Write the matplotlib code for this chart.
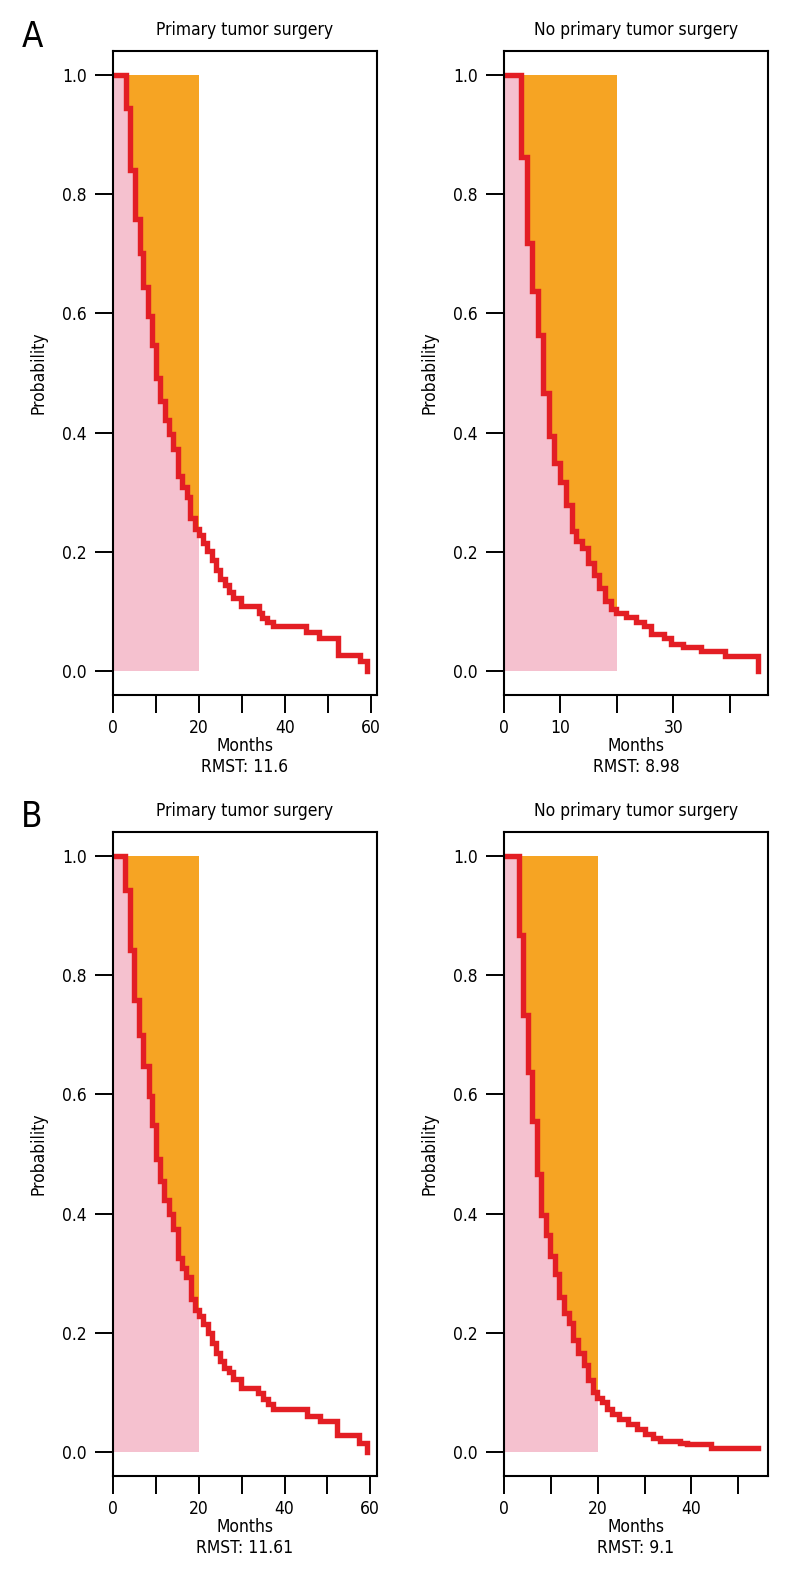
import matplotlib
matplotlib.use("Agg")
import matplotlib.pyplot as plt
from matplotlib.transforms import offset_copy
import numpy as np

plt.rcParams['font.family'] = ['Liberation Sans Narrow', 'DejaVu Sans']
plt.rcParams['font.stretch'] = 'condensed'

# step survival curves (time in months, survival after that time)
t_a_surg = [0, 3.0, 4.0, 5.0, 6.2, 7.0, 8.2, 9.1, 10.0, 10.9, 12.0, 13.0, 14.0, 15.1, 16.1, 17.1,
            18.0, 19.0, 20.0, 21.0, 21.9, 22.9, 23.9, 24.9, 26.0, 27.0, 28.0, 29.8, 33.9, 34.7,
            35.9, 37.1, 44.8, 47.9, 52.2, 57.3, 59.0]
s_a_surg = [1.0, 0.944, 0.841, 0.759, 0.702, 0.645, 0.596, 0.547, 0.492, 0.453, 0.422, 0.398, 0.372,
            0.327, 0.308, 0.292, 0.256, 0.239, 0.229, 0.215, 0.202, 0.187, 0.169, 0.155, 0.144,
            0.133, 0.123, 0.109, 0.098, 0.089, 0.082, 0.075, 0.066, 0.055, 0.027, 0.017, 0.0]

t_a_nosurg = [0, 3.0, 4.0, 4.9, 6.0, 7.0, 8.0, 8.9, 9.9, 11.0, 12.0, 12.8, 13.8, 14.9, 15.9, 16.9,
              17.9, 18.9, 19.8, 21.6, 23.4, 24.9, 26.0, 28.4, 29.6, 31.7, 34.9, 39.1, 45.0]
s_a_nosurg = [1.0, 0.863, 0.718, 0.638, 0.563, 0.467, 0.394, 0.349, 0.318, 0.279, 0.235, 0.219,
              0.207, 0.182, 0.161, 0.139, 0.118, 0.104, 0.097, 0.090, 0.082, 0.075, 0.063, 0.055,
              0.046, 0.040, 0.033, 0.025, 0.0]

t_b_surg = [0, 2.8, 3.9, 4.9, 6.1, 7.0, 8.3, 9.1, 10.0, 10.9, 12.0, 13.0, 14.1, 15.1, 16.1, 17.0,
            18.1, 19.1, 20.0, 21.1, 22.1, 23.0, 24.1, 25.0, 26.0, 27.0, 28.0, 29.9, 33.8, 35.0,
            36.2, 37.3, 45.2, 48.3, 52.2, 57.3, 59.2]
s_b_surg = [1.0, 0.942, 0.842, 0.758, 0.700, 0.647, 0.597, 0.549, 0.492, 0.455, 0.423, 0.400, 0.374,
            0.326, 0.308, 0.293, 0.256, 0.238, 0.229, 0.215, 0.199, 0.183, 0.167, 0.153, 0.141,
            0.134, 0.123, 0.107, 0.099, 0.089, 0.080, 0.073, 0.061, 0.053, 0.029, 0.015, 0.0]

t_b_nosurg = [0, 3.1, 4.0, 5.1, 5.9, 7.1, 7.9, 9.0, 9.9, 10.9, 11.8, 12.9, 13.9, 14.8, 15.8, 17.0,
              18.0, 18.9, 19.8, 21.0, 22.0, 23.1, 24.5, 26.4, 28.4, 30.2, 31.9, 33.4, 37.6, 39.0,
              44.3, 54.2]
s_b_nosurg = [1.0, 0.868, 0.733, 0.637, 0.555, 0.466, 0.397, 0.365, 0.329, 0.298, 0.260, 0.233,
              0.216, 0.188, 0.166, 0.146, 0.121, 0.101, 0.091, 0.084, 0.073, 0.064, 0.055, 0.048,
              0.038, 0.031, 0.023, 0.018, 0.016, 0.013, 0.007, 0.007]

titles = ["Primary tumor surgery", "No primary tumor surgery"]
rmst_labels = ["RMST: 11.6", "RMST: 8.98", "RMST: 11.61", "RMST: 9.1"]
xtick_sets = [
    ([0, 10, 20, 30, 40, 50, 60], ["0", "", "20", "", "40", "", "60"]),
    ([0, 10, 20, 30, 40], ["0", "10", "", "30", ""]),
    ([0, 10, 20, 30, 40, 50, 60], ["0", "", "20", "", "40", "", "60"]),
    ([0, 10, 20, 30, 40, 50], ["0", "", "20", "", "40", ""]),
]
tau = 20

red = '#E31E24'
orange = '#F6A423'
pink = '#F5C1CF'
fs = 12.5

W, H = 800, 1580
fig = plt.figure(figsize=(W / 100, H / 100), dpi=100)

curves = [(t_a_surg, s_a_surg), (t_a_nosurg, s_a_nosurg),
          (t_b_surg, s_b_surg), (t_b_nosurg, s_b_nosurg)]
lefts = [113, 504]
rows = [(51, 695), (832, 1476)]

for i, (t, s) in enumerate(curves):
    r, c = divmod(i, 2)
    top, bot = rows[r]
    ax = fig.add_axes([lefts[c] / W, 1 - bot / H, 264 / W, (bot - top) / H])
    t = np.array(t)
    s = np.array(s)

    # area up to tau
    keep = t < tau
    tt = np.append(t[keep], tau)
    ss = np.append(s[keep], s[keep][-1])
    ax.fill_between(tt, 0, ss, step='post', color=pink, lw=0)
    ax.fill_between(tt, ss, 1, step='post', color=orange, lw=0)
    ax.step(t, s, where='post', color=red, lw=3.9, solid_joinstyle='miter')

    ax.set_xlim(0, t[-1] * 1.04)
    ax.set_ylim(-0.04, 1.04)
    ticks, labels = xtick_sets[i]
    ax.set_xticks(ticks)
    ax.set_xticklabels(labels)
    ax.set_yticks([0, 0.2, 0.4, 0.6, 0.8, 1.0])
    ax.set_yticklabels(["0.0", "0.2", "0.4", "0.6", "0.8", "1.0"])
    ax.tick_params(axis='both', direction='out', length=13, width=1.4, labelsize=fs)
    ax.tick_params(axis='x', pad=4)
    ax.tick_params(axis='y', pad=6)
    for sp in ax.spines.values():
        sp.set_linewidth(1.5)

    ax.text(0.5, 0, "Months", fontsize=fs, ha='center', va='center',
            transform=offset_copy(ax.transAxes, fig=fig, y=-51, units='dots'))
    ax.text(0.5, 0, rmst_labels[i], fontsize=fs, ha='center', va='center',
            transform=offset_copy(ax.transAxes, fig=fig, y=-72, units='dots'))
    ax.text(0.5, 1, titles[c], fontsize=fs, ha='center', va='center',
            transform=offset_copy(ax.transAxes, fig=fig, y=21, units='dots'))
    ax.text(0, 0.5, "Probability", fontsize=fs, ha='center', va='center', rotation=90,
            transform=offset_copy(ax.transAxes, fig=fig, x=-74, units='dots'))

fig.text(32 / W, 1 - 37 / H, "A", fontsize=25, ha='center', va='center')
fig.text(32 / W, 1 - 817 / H, "B", fontsize=25, ha='center', va='center')

fig.savefig("out.png", dpi=100)
